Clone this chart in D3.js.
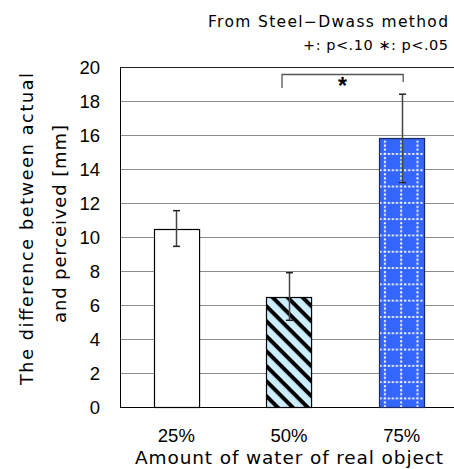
<!DOCTYPE html>
<html>
<head>
<meta charset="utf-8">
<script src="https://cdn.jsdelivr.net/npm/d3@7"></script>
<style>
  body { margin: 0; background: #fff; }
  text { font-family: "Liberation Sans", Arial, sans-serif; fill: #000; }
  .wide { font-family: "DejaVu Sans", sans-serif; }
</style>
</head>
<body>
<div id="chart"></div>
<script>
// data
var categories = ["25%", "50%", "75%"];
var means = [10.5, 6.5, 15.8];
var errors = [1.05, 1.4, 2.6];
var yTicks = [0, 2, 4, 6, 8, 10, 12, 14, 16, 18, 20];

var W = 454, H = 469;
var margin = {top: 67, right: -4, bottom: 62, left: 120};
var width = W - margin.left - margin.right,
    height = H - margin.top - margin.bottom;

var svg = d3.select("#chart").append("svg")
    .attr("width", W).attr("height", H);

var defs = svg.append("defs");

// diagonal stripes for the 50% bar
var stripes = defs.append("pattern")
    .attr("id", "stripes")
    .attr("patternUnits", "userSpaceOnUse")
    .attr("width", 10.6).attr("height", 10.6)
    .attr("patternTransform", "rotate(45)");
stripes.append("rect").attr("width", 10.6).attr("height", 10.6).attr("fill", "#cdeeff");
stripes.append("rect").attr("width", 10.6).attr("height", 4).attr("fill", "#000");

// dotted grid for the 75% bar
var grid = defs.append("pattern")
    .attr("id", "dotgrid")
    .attr("patternUnits", "userSpaceOnUse")
    .attr("x", margin.left + 13.5).attr("y", 4.5)
    .attr("width", 16.3).attr("height", 16.3);
grid.append("rect").attr("width", 16.3).attr("height", 16.3).attr("fill", "#3366ff");
grid.append("line").attr("x1", 1).attr("x2", 1).attr("y1", 0).attr("y2", 16.3)
    .attr("stroke", "#fff").attr("stroke-width", 2).attr("stroke-dasharray", "2,2");
grid.append("line").attr("x1", 0).attr("x2", 16.3).attr("y1", 1).attr("y2", 1)
    .attr("stroke", "#fff").attr("stroke-width", 2).attr("stroke-dasharray", "2,2");

var fills = ["#fff", "url(#stripes)", "url(#dotgrid)"];

var g = svg.append("g")
    .attr("transform", "translate(" + margin.left + "," + margin.top + ")");

var x = d3.scaleBand().domain(categories).range([0, width]).paddingInner(0.6).paddingOuter(0.3);
var y = d3.scaleLinear().domain([0, 20]).range([height, 0]);

// grid lines
g.append("g").selectAll("line")
  .data(yTicks.filter(function(d) { return d > 0 && d < 20; }))
  .enter().append("line")
    .attr("x1", 0).attr("x2", width)
    .attr("y1", function(d) { return Math.round(y(d)) + 0.5; })
    .attr("y2", function(d) { return Math.round(y(d)) + 0.5; })
    .attr("stroke", "#8c8c8c").attr("stroke-width", 1);

// frame: top, left, bottom
g.append("line").attr("x1", 0).attr("x2", width).attr("y1", 0.5).attr("y2", 0.5)
    .attr("stroke", "#222");
g.append("line").attr("x1", 0.5).attr("x2", 0.5).attr("y1", 0).attr("y2", height)
    .attr("stroke", "#000");
g.append("line").attr("x1", 0).attr("x2", width).attr("y1", height + 0.5).attr("y2", height + 0.5)
    .attr("stroke", "#000");

// y tick labels
var yAxis = d3.axisLeft(y).tickValues(yTicks).tickSize(0).tickPadding(20);
var ya = g.append("g").call(yAxis);
ya.select(".domain").remove();
ya.selectAll("text").style("font-size", "18.5px").attr("dy", "0.36em")
    .style("font-family", "'Liberation Sans', Arial, sans-serif").attr("fill", "#000");

// bars
g.append("g").selectAll("rect")
  .data(means)
  .enter().append("rect")
    .attr("x", function(d, i) { return Math.round(x(categories[i])) + 0.5; })
    .attr("y", function(d) { return Math.round(y(d)) + 0.5; })
    .attr("width", x.bandwidth())
    .attr("height", function(d) { return height - Math.round(y(d)); })
    .attr("fill", function(d, i) { return fills[i]; })
    .attr("stroke", function(d, i) { return i == 2 ? "#1a2a66" : "#000"; })
    .attr("stroke-width", 1.2);

// error bars
var eb = g.append("g").attr("stroke", "#444").attr("stroke-width", 1.5);
means.forEach(function(m, i) {
  var cx = Math.round(x(categories[i]) + x.bandwidth() / 2) + 0.5;
  eb.append("line").attr("x1", cx).attr("x2", cx)
    .attr("y1", y(m + errors[i])).attr("y2", y(m - errors[i]));
  [m + errors[i], m - errors[i]].forEach(function(v) {
    eb.append("line").attr("x1", cx - 3.5).attr("x2", cx + 3.5)
      .attr("y1", y(v)).attr("y2", y(v)).attr("stroke", "#222");
  });
});

// significance bracket between 50% and 75%
var bx1 = x(categories[1]) + x.bandwidth() / 2 - 7,
    bx2 = x(categories[2]) + x.bandwidth() / 2 + 1.5;
g.append("path")
    .attr("d", "M" + bx1 + "," + (y(20) + 21) + "V" + (y(20) + 7.5) + "H" + bx2 + "V" + (y(20) + 15))
    .attr("fill", "none").attr("stroke", "#555").attr("stroke-width", 1.3);
g.append("text").attr("x", (bx1 + bx2) / 2).attr("y", y(20) + 27)
    .attr("text-anchor", "middle").style("font-size", "23px").style("font-weight", "bold").text("*");

// x labels
g.append("g").selectAll("text")
  .data(categories)
  .enter().append("text")
    .attr("x", function(d) { return x(d) + x.bandwidth() / 2; })
    .attr("y", height + 35)
    .attr("text-anchor", "middle")
    .style("font-size", "18.5px")
    .text(function(d) { return d; });

svg.append("text").attr("class", "wide").attr("x", 289).attr("y", 464)
    .attr("text-anchor", "middle").style("font-size", "18.5px")
    .attr("textLength", 308).attr("lengthAdjust", "spacing")
    .text("Amount of water of real object");

// y title
svg.append("text").attr("class", "wide")
    .attr("transform", "translate(33,229) rotate(-90)")
    .attr("text-anchor", "middle").style("font-size", "17.5px")
    .attr("textLength", 312).attr("lengthAdjust", "spacing")
    .text("The difference between actual");
svg.append("text").attr("class", "wide")
    .attr("transform", "translate(66,224) rotate(-90)")
    .attr("text-anchor", "middle").style("font-size", "18px")
    .attr("textLength", 198).attr("lengthAdjust", "spacing")
    .text("and perceived [mm]");

// note
svg.append("text").attr("class", "wide").attr("x", 448).attr("y", 27).attr("text-anchor", "end")
    .style("font-size", "15.5px").attr("textLength", 240).attr("lengthAdjust", "spacing")
    .text("From Steel\u2212Dwass method");
svg.append("text").attr("class", "wide").attr("x", 448).attr("y", 50).attr("text-anchor", "end")
    .style("font-size", "14.5px").attr("textLength", 145).attr("lengthAdjust", "spacing")
    .text("+: p<.10 \u2217: p<.05");
</script>
</body>
</html>
